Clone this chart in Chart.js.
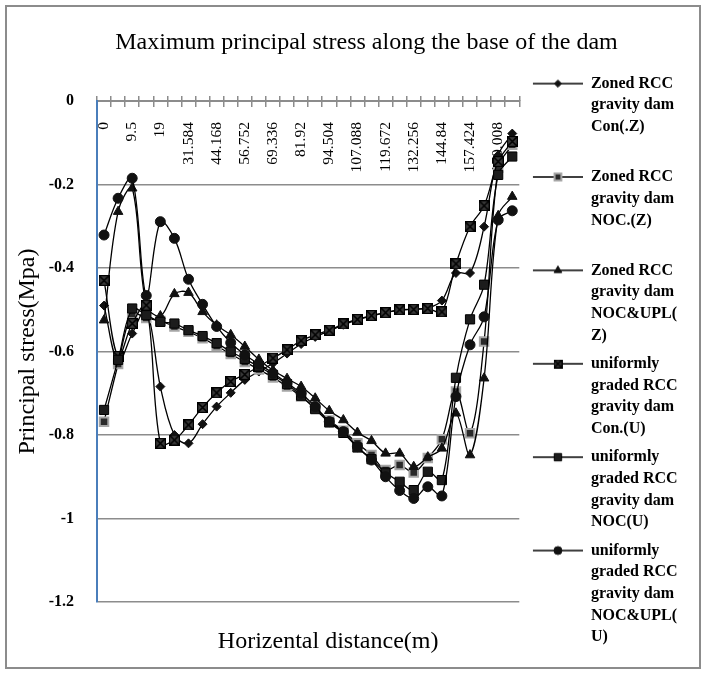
<!DOCTYPE html>
<html>
<head>
<meta charset="utf-8">
<script src="https://cdn.jsdelivr.net/npm/chart.js@4.4.1/dist/chart.umd.min.js"></script>
<style>
  html, body { margin: 0; padding: 0; background: #fff; }
  #wrap { position: relative; width: 706px; height: 674px; }
  #wrap canvas { position: absolute; left: 0; top: 0; }
  #frame { position: absolute; left: 5px; top: 5px; width: 692px; height: 660px; border: 2px solid #8c8c8c; pointer-events: none; }
</style>
</head>
<body>
<div id="wrap">
  <canvas id="chart" width="706" height="674"></canvas>
  <div id="frame"></div>
</div>
<script>
// Horizontal distance along the base (m), one category per node
const distances = ['0', '4.75', '9.5', '14.25', '19', '25.292', '31.584', '37.876', '44.168', '50.46',
  '56.752', '63.044', '69.336', '75.628', '81.92', '88.212', '94.504', '100.796', '107.088', '113.38',
  '119.672', '125.964', '132.256', '138.548', '144.84', '151.132', '157.424', '163.716', '170.008', '176.3'];

// Principal stress (MPa)
const conZ = [-0.49, -0.625, -0.557, -0.50, -0.684, -0.80, -0.82, -0.774, -0.732, -0.699,
  -0.668, -0.648, -0.628, -0.605, -0.582, -0.565, -0.551, -0.536, -0.524, -0.515,
  -0.507, -0.501, -0.499, -0.496, -0.478, -0.412, -0.412, -0.301, -0.13, -0.078];
const nocZ = [-0.768, -0.63, -0.51, -0.52, -0.527, -0.54, -0.553, -0.568, -0.587, -0.606,
  -0.625, -0.643, -0.662, -0.684, -0.708, -0.735, -0.765, -0.79, -0.82, -0.848,
  -0.884, -0.872, -0.89, -0.855, -0.81, -0.696, -0.796, -0.576, -0.16, -0.105];
const nocUplZ = [-0.525, -0.265, -0.209, -0.49, -0.515, -0.462, -0.459, -0.505, -0.537, -0.56,
  -0.588, -0.619, -0.645, -0.665, -0.684, -0.712, -0.742, -0.764, -0.794, -0.814,
  -0.844, -0.844, -0.876, -0.853, -0.832, -0.748, -0.848, -0.664, -0.275, -0.229];
const conU = [-0.43, -0.612, -0.533, -0.489, -0.82, -0.812, -0.776, -0.734, -0.699, -0.672,
  -0.655, -0.636, -0.616, -0.596, -0.574, -0.56, -0.549, -0.534, -0.523, -0.514,
  -0.507, -0.5, -0.499, -0.497, -0.505, -0.39, -0.301, -0.251, -0.145, -0.097];
const nocU = [-0.74, -0.62, -0.497, -0.513, -0.529, -0.533, -0.549, -0.563, -0.58, -0.60,
  -0.618, -0.636, -0.656, -0.678, -0.706, -0.738, -0.77, -0.795, -0.83, -0.858,
  -0.89, -0.912, -0.932, -0.888, -0.908, -0.663, -0.523, -0.44, -0.177, -0.133];
const nocUplU = [-0.321, -0.233, -0.185, -0.466, -0.289, -0.329, -0.427, -0.487, -0.54, -0.579,
  -0.608, -0.63, -0.652, -0.675, -0.70, -0.732, -0.768, -0.792, -0.828, -0.86,
  -0.90, -0.933, -0.952, -0.924, -0.946, -0.708, -0.584, -0.517, -0.285, -0.263];

const seriesNames = [
  'Zoned RCC gravity dam Con(.Z)',
  'Zoned RCC gravity dam NOC.(Z)',
  'Zoned RCC gravity dam NOC&UPL(Z)',
  'uniformly graded RCC gravity dam Con.(U)',
  'uniformly graded RCC gravity dam NOC(U)',
  'uniformly graded RCC gravity dam NOC&UPL(U)'
];
// legend text as wrapped in the original (blank lines keep the entries evenly spaced)
const legendLines = [
  ['Zoned RCC', 'gravity dam', 'Con(.Z)', ''],
  ['Zoned RCC', 'gravity dam', 'NOC.(Z)', ''],
  ['Zoned RCC', 'gravity dam', 'NOC&UPL(', 'Z)'],
  ['uniformly', 'graded RCC', 'gravity dam', 'Con.(U)'],
  ['uniformly', 'graded RCC', 'gravity dam', 'NOC(U)'],
  ['uniformly', 'graded RCC', 'gravity dam', 'NOC&UPL(', 'U)']
];

const SERIF = "'Liberation Serif', 'Times New Roman', serif";
Chart.defaults.font.family = SERIF;
Chart.defaults.color = '#000';

// square with a cross, used for Con.(U)
function boxCross(size) {
  const c = document.createElement('canvas');
  c.width = size; c.height = size;
  const g = c.getContext('2d');
  g.fillStyle = '#3a3a3a';
  g.fillRect(0, 0, size, size);
  g.strokeStyle = '#000';
  g.lineWidth = 1.2;
  g.strokeRect(0.6, 0.6, size - 1.2, size - 1.2);
  g.beginPath();
  g.moveTo(1, 1); g.lineTo(size - 1, size - 1);
  g.moveTo(size - 1, 1); g.lineTo(1, size - 1);
  g.lineWidth = 1.6;
  g.stroke();
  return c;
}

const markers = [
  {style: 'rectRot', radius: 4.5, bg: '#111', border: '#111', bw: 1},
  {style: 'rect', radius: 6, bg: '#2a2a2a', border: '#a6a6a6', bw: 2},
  {style: 'triangle', radius: 5.5, bg: '#111', border: '#111', bw: 1},
  {style: boxCross(11), legendStyle: boxCross(9), radius: 5.5, bg: '#111', border: '#111', bw: 1},
  {style: 'rect', radius: 6.5, bg: '#1c1c1c', border: '#000', bw: 1},
  {style: 'circle', radius: 5, bg: '#111', border: '#111', bw: 1}
];

// legend sample: short line with the marker in the middle
function legendIcon(m) {
  const c = document.createElement('canvas');
  c.width = 57; c.height = 16;
  const g = c.getContext('2d');
  g.strokeStyle = '#000';
  g.lineWidth = 1.5;
  g.beginPath(); g.moveTo(7, 8); g.lineTo(57, 8); g.stroke();
  g.fillStyle = m.bg;
  g.strokeStyle = m.border;
  g.lineWidth = m.bw;
  const style = m.legendStyle || m.style;
  Chart.helpers.drawPoint(g, {pointStyle: style, radius: m.radius * 0.8, rotation: 0, borderWidth: m.bw}, 32, 8);
  return c;
}
const legendIcons = markers.map(legendIcon);

const seriesData = [conZ, nocZ, nocUplZ, conU, nocU, nocUplU];
const datasets = seriesData.map((d, i) => ({
  label: seriesNames[i],
  data: d,
  xAxisID: 'x',
  yAxisID: 'y',
  borderColor: '#000',
  borderWidth: 1.3,
  tension: 0.35,
  fill: false,
  pointStyle: markers[i].style,
  pointRadius: markers[i].radius,
  pointHoverRadius: markers[i].radius,
  pointBackgroundColor: markers[i].bg,
  pointBorderColor: markers[i].border,
  pointBorderWidth: markers[i].bw,
  order: seriesData.length - i
}));

// the chart title and the x axis title sit a little right of centre in the original
const shiftTitles = {
  id: 'shiftTitles',
  afterLayout(chart) {
    if (chart.titleBlock) chart.titleBlock.left += 44;
    if (chart.scales.xTitle) chart.scales.xTitle.left += 40;
  }
};

new Chart(document.getElementById('chart'), {
  type: 'line',
  data: { labels: distances, datasets: datasets },
  plugins: [shiftTitles],
  options: {
    responsive: false,
    animation: false,
    layout: { padding: { left: 5, top: 5, right: 22, bottom: 5 } },
    plugins: {
      tooltip: { enabled: false },
      title: {
        display: true,
        text: 'Maximum principal stress along the base of the dam',
        color: '#000',
        font: { family: SERIF, size: 24, weight: 'normal' },
        padding: { top: 23.6, bottom: 43.6 }
      },
      legend: {
        position: 'right',
        align: 'start',
        title: { display: true, text: '', font: { size: 10 }, padding: { top: 0, bottom: 52 } },
        labels: {
          usePointStyle: true,
          pointStyleWidth: 57,
          boxHeight: 16,
          padding: 6.6,
          color: '#000',
          font: { family: SERIF, size: 16, weight: 'bold', lineHeight: 1.356 },
          generateLabels: chart => chart.data.datasets.map((ds, i) => ({
            text: legendLines[i],
            pointStyle: legendIcons[i],
            fillStyle: '#000',
            strokeStyle: '#000',
            fontColor: '#000',
            lineWidth: 0,
            hidden: false,
            datasetIndex: i
          }))
        }
      }
    },
    scales: {
      x: {
        type: 'category',
        position: { y: 0 },
        offset: true,
        grid: { offset: true, drawOnChartArea: false, tickLength: 5, color: '#8c8c8c', lineWidth: 1.5 },
        border: { color: '#8c8c8c', width: 2 },
        ticks: {
          autoSkip: false,
          minRotation: 90,
          maxRotation: 90,
          padding: 16,
          color: '#000',
          font: { family: SERIF, size: 15.5 },
          callback: (v, i) => (i % 2 === 0 ? distances[i] : '')
        }
      },
      xUp: {
        type: 'category',
        position: { y: 0 },
        offset: true,
        grid: { offset: true, drawOnChartArea: false, tickLength: -5, color: '#8c8c8c', lineWidth: 1.5 },
        border: { display: false },
        ticks: { display: false }
      },
      xTitle: {
        type: 'category',
        position: 'bottom',
        grid: { display: false, drawTicks: false },
        border: { display: false },
        ticks: { display: false },
        title: {
          display: true,
          text: 'Horizental distance(m)',
          color: '#000',
          font: { family: SERIF, size: 24 },
          padding: { top: 25.6, bottom: 12.6 }
        }
      },
      y: {
        min: -1.2,
        max: 0,
        ticks: {
          stepSize: 0.2,
          padding: 23,
          color: '#000',
          font: { family: SERIF, size: 16, weight: 'bold' },
          callback: v => String(Number(v.toFixed(1)))
        },
        grid: { color: '#8c8c8c', lineWidth: 1.5, drawTicks: false },
        border: { color: '#4a7ebb', width: 2 },
        title: {
          display: true,
          text: 'Principal stress(Mpa)',
          color: '#000',
          font: { family: SERIF, size: 24 },
          padding: { top: 8.6, bottom: 0 }
        },
        afterFit: scale => { scale.width = 92; }
      }
    }
  }
});
</script>
</body>
</html>
